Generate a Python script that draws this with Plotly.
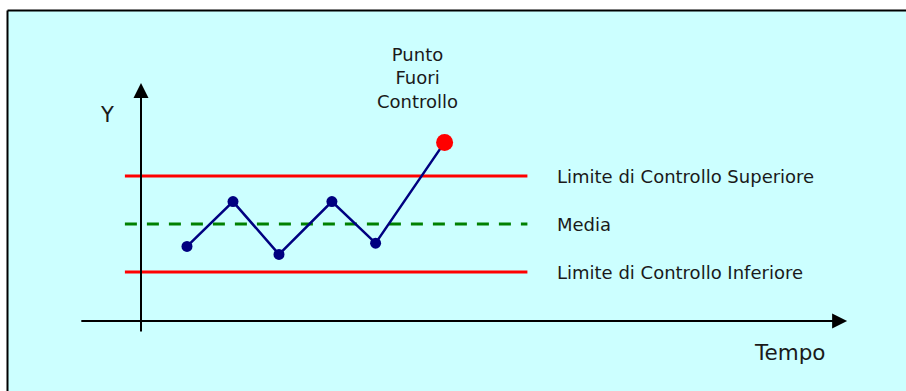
import plotly.graph_objects as go

# dati della carta di controllo
tempo = [1, 2, 3, 4.15, 5.1]
valori = [8.6, 11.4, 8.1, 11.4, 8.8]
tempo_fuori = [6.6]
valore_fuori = [15.1]
media = 10
lim_sup = 13
lim_inf = 7
etichette = ["Limite di Controllo Superiore", "Media", "Limite di Controllo Inferiore"]

# estensione orizzontale delle linee di controllo
x_lin = [-0.35, 8.4]

FONT = "DejaVu Sans, Verdana, sans-serif"

fig = go.Figure()

# limiti e media
fig.add_trace(go.Scatter(x=x_lin, y=[lim_sup, lim_sup], mode="lines",
                         line=dict(color="#ff0000", width=3), showlegend=False))
fig.add_trace(go.Scatter(x=x_lin, y=[lim_inf, lim_inf], mode="lines",
                         line=dict(color="#ff0000", width=3), showlegend=False))
fig.add_trace(go.Scatter(x=x_lin, y=[media, media], mode="lines",
                         line=dict(color="#008000", width=3, dash="12px,10px"),
                         showlegend=False))

# spezzata dei punti
fig.add_trace(go.Scatter(x=tempo + tempo_fuori, y=valori + valore_fuori, mode="lines",
                         line=dict(color="#000080", width=2.5), showlegend=False))
fig.add_trace(go.Scatter(x=tempo, y=valori, mode="markers",
                         marker=dict(color="#000080", size=11), showlegend=False))
fig.add_trace(go.Scatter(x=tempo_fuori, y=valore_fuori, mode="markers",
                         marker=dict(color="#ff0000", size=17), showlegend=False))

# assi con freccia
fig.add_annotation(x=0, y=18.81, ax=0, ay=3.19, xref="x", yref="y", axref="x", ayref="y",
                   text="", showarrow=True, arrowhead=2, arrowsize=1.5, arrowwidth=2,
                   arrowcolor="black")
fig.add_annotation(x=15.35, y=3.94, ax=-1.33, ay=3.94, xref="x", yref="y", axref="x", ayref="y",
                   text="", showarrow=True, arrowhead=2, arrowsize=1.5, arrowwidth=2,
                   arrowcolor="black")

# testi
for testo, yv in zip(etichette, [lim_sup, media, lim_inf]):
    fig.add_annotation(x=9.0, y=yv, text=testo, showarrow=False, xanchor="left",
                       yanchor="middle", font=dict(family=FONT, size=18, color="#1a1a1a"))
fig.add_annotation(x=6.0, y=19.1, text="Punto<br>Fuori<br>Controllo", showarrow=False,
                   xanchor="center", yanchor="middle", align="center",
                   font=dict(family=FONT, size=18, color="#1a1a1a"))
fig.add_annotation(x=-0.74, y=16.8, text="Y", showarrow=False,
                   font=dict(family=FONT, size=21, color="#1a1a1a"))
fig.add_annotation(x=14.1, y=2.0, text="Tempo", showarrow=False,
                   font=dict(family=FONT, size=21.5, color="#1a1a1a"))

# cornice: sfondo azzurro con bordo solo in alto e a sinistra
bx, by = 7.5 / 906, 1 - 10.5 / 391
fig.add_shape(type="rect", xref="paper", yref="paper", x0=bx, y0=0, x1=1, y1=by,
              line=dict(width=0), fillcolor="#ccffff", layer="below")
fig.add_shape(type="line", xref="paper", yref="paper", x0=bx, y0=by, x1=1, y1=by,
              line=dict(color="black", width=2), layer="below")
fig.add_shape(type="line", xref="paper", yref="paper", x0=bx, y0=0, x1=bx, y1=by,
              line=dict(color="black", width=2), layer="below")

fig.update_layout(
    width=906, height=391, autosize=False,
    margin=dict(l=0, r=0, t=0, b=0),
    plot_bgcolor="white", paper_bgcolor="white",
    xaxis=dict(range=[-141 / 46, 765 / 46], visible=False, fixedrange=True),
    yaxis=dict(range=[-0.4375, 24], visible=False, fixedrange=True),
    showlegend=False,
)

fig.write_html("out.html", config={"displayModeBar": False},
               post_script="document.body.style.margin='0';"
                           "document.body.style.overflow='hidden';"
                           "document.documentElement.style.overflow='hidden';")
